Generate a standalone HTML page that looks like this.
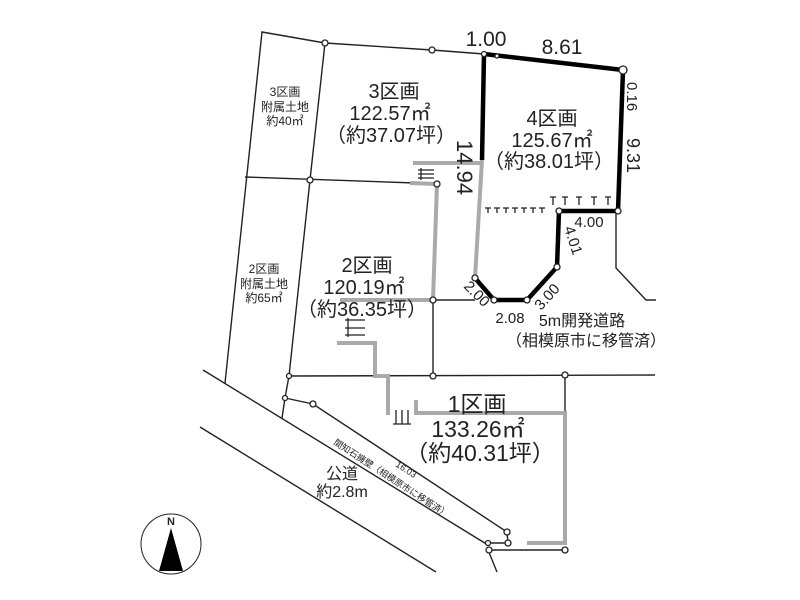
<!DOCTYPE html>
<html><head><meta charset="utf-8">
<style>
html,body{margin:0;padding:0;background:#fff;}
svg{display:block;}
text{font-family:"Liberation Sans","Noto Sans CJK JP",sans-serif;fill:#222;}
</style></head>
<body>
<svg width="800" height="600" viewBox="0 0 800 600" xmlns="http://www.w3.org/2000/svg">
<rect width="800" height="600" fill="#fff"/>
<g stroke="#222" stroke-width="1.4" fill="none">
  <polyline points="225,383 262,32 325,43 432,50 484,54"/>
  <polyline points="325,43 310,180 289,376 285,398 282,418"/>
  <line x1="245" y1="177" x2="415" y2="183"/>
  <line x1="433" y1="300" x2="475" y2="300"/>
  <line x1="433" y1="300" x2="433" y2="376"/>
  <line x1="289" y1="376" x2="655" y2="375"/>
  <line x1="565" y1="375" x2="565" y2="415"/>
  <polyline points="616,211 616,268 646,300 656,300"/>
  <line x1="203" y1="370" x2="488" y2="545"/>
  <line x1="200" y1="427" x2="436" y2="572"/>
  <polyline points="285,398 313,404 507,532 508,543 488,543"/>
  <line x1="488" y1="550" x2="565" y2="550"/>
  <line x1="488" y1="550" x2="497" y2="572"/>
</g>
<g stroke="#aaa" stroke-width="4" fill="none">
  <line x1="413" y1="163" x2="482" y2="163"/>
  <polyline points="482,160 475,278"/>
  <polyline points="410,183 437,184 433,300 340,300"/>
  <polyline points="337,343 375,343 375,376 388,376 388,415"/>
  <polyline points="416,400 416,413 565,413 565,543 527,543"/>
</g>
<g stroke="#000" stroke-width="4.5" fill="none" stroke-linejoin="round">
  <polyline points="482,160 484,54 623,70 618,211 559,211 557,267 527,300 494,300 475,278"/>
</g>
<g stroke="#222" stroke-width="1.3">
  <path d="M485,208h6M488,208v5 M494,208h6M497,208v5 M503,208h6M506,208v5 M512,208h6M515,208v5 M521,208h6M524,208v5 M530,208h6M533,208v5 M539,208h6M542,208v5"/>
  <path d="M550,197h6M553,197v8 M562,197h6M565,197v8 M576,197h6M579,197v8 M591,197h6M594,197v8 M605,197h6M608,197v8"/>
  <path d="M418,170h16 M418,174h16 M418,178h16 M421,168v12"/>
  <path d="M345,320h20 M345,328h20 M345,335h20 M348,318v19"/>
  <path d="M396,410v14 M402,410v14 M408,410v14 M393,424h18"/>
</g>
<g fill="#fff" stroke="#222" stroke-width="1.3">
  <circle cx="325" cy="43" r="3"/><circle cx="432" cy="50" r="3"/><circle cx="484" cy="54" r="2.5"/>
  <circle cx="497" cy="56" r="2"/><circle cx="623" cy="70" r="4"/><circle cx="310" cy="180" r="3"/>
  <circle cx="437" cy="184" r="3"/><circle cx="618" cy="211" r="3"/><circle cx="559" cy="211" r="3"/>
  <circle cx="557" cy="267" r="3"/><circle cx="527" cy="300" r="3"/><circle cx="494" cy="300" r="3"/>
  <circle cx="475" cy="278" r="3"/><circle cx="433" cy="300" r="3"/><circle cx="433" cy="376" r="3"/>
  <circle cx="565" cy="375" r="3"/><circle cx="289" cy="376" r="2.5"/><circle cx="285" cy="398" r="2.5"/>
  <circle cx="313" cy="404" r="3"/><circle cx="507" cy="532" r="3"/><circle cx="508" cy="543" r="3"/>
  <circle cx="488" cy="543" r="2.5"/><circle cx="489" cy="550" r="3"/><circle cx="565" cy="550" r="3"/>
</g>
<g text-anchor="middle">
  <text x="285" y="96" font-size="12">3区画</text>
  <text x="285" y="111" font-size="12">附属土地</text>
  <text x="285" y="125" font-size="12">約40㎡</text>
  <text x="264" y="273" font-size="12">2区画</text>
  <text x="264" y="288" font-size="12">附属土地</text>
  <text x="264" y="302" font-size="12">約65㎡</text>
  <text x="394" y="98" font-size="20">3区画</text>
  <text x="390" y="120" font-size="20">122.57㎡</text>
  <text x="391" y="142" font-size="20">（約37.07坪）</text>
  <text x="552" y="125" font-size="20">4区画</text>
  <text x="552" y="147" font-size="20">125.67㎡</text>
  <text x="549" y="168" font-size="20">（約38.01坪）</text>
  <text x="367" y="272" font-size="20">2区画</text>
  <text x="364" y="294" font-size="20">120.19㎡</text>
  <text x="362" y="316" font-size="20">（約36.35坪）</text>
  <text x="477" y="412" font-size="23">1区画</text>
  <text x="478" y="437" font-size="23">133.26㎡</text>
  <text x="480" y="461" font-size="23">（約40.31坪）</text>
  <text x="486" y="46" font-size="21">1.00</text>
  <text x="562" y="54" font-size="21">8.61</text>
  <text x="589" y="227" font-size="15">4.00</text>
  <text x="510" y="323" font-size="15">2.08</text>
  <text x="582" y="326" font-size="16">5m開発道路</text>
  <text x="586" y="346" font-size="16">（相模原市に移管済）</text>
  <text x="342" y="479" font-size="16">公道</text>
  <text x="342" y="497" font-size="16">約2.8m</text>
  <text x="171" y="525" font-size="11" font-weight="bold" font-family="Liberation Serif,serif">N</text>
</g>
<text font-size="15" transform="translate(627,82) rotate(90)">0.16</text>
<text font-size="18" transform="translate(627,138) rotate(90)">9.31</text>
<text font-size="22" transform="translate(457,140) rotate(90)">14.94</text>
<text font-size="15" transform="translate(564,228) rotate(72)">4.01</text>
<text font-size="15" transform="translate(463,287) rotate(45)">2.00</text>
<text font-size="15" transform="translate(541,311) rotate(-48)">3.00</text>
<text font-size="9" transform="translate(333,444) rotate(33)">間知石擁壁（相模原市に移管済）</text>
<text font-size="9" fill="#666" transform="translate(395,466) rotate(33)">16.03</text>
<circle cx="171" cy="544" r="30" fill="none" stroke="#222" stroke-width="1"/>
<polygon points="171,528 159,571 183,571" fill="#000"/>
</svg>
</body></html>
